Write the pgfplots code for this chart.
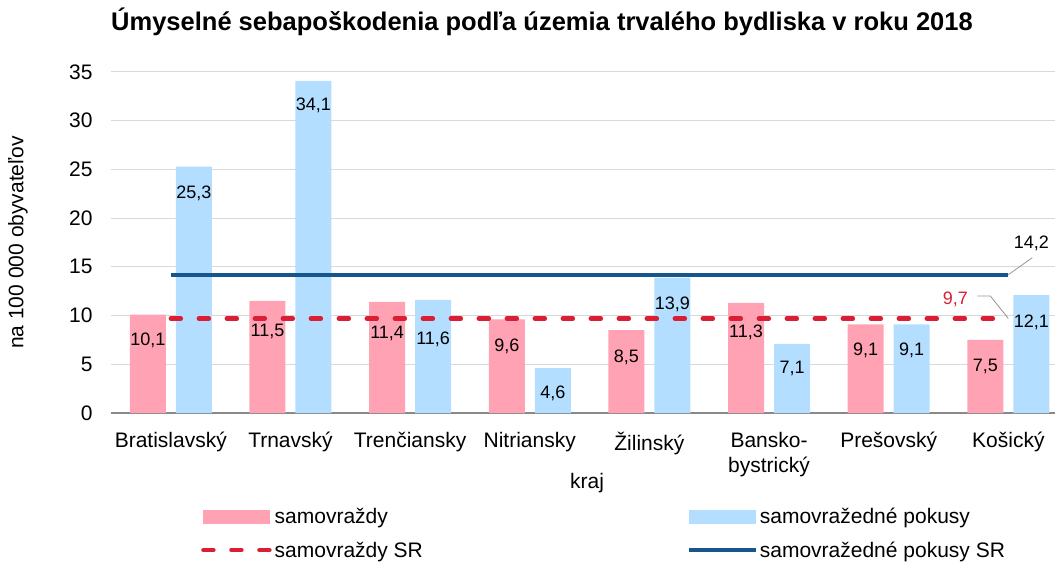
\documentclass[border=0pt]{standalone}
\usepackage{pgfplots}
\pgfplotsset{compat=1.18}
\usepackage{pgfplotstable}
\usepackage{fontspec}
\setmainfont{Liberation Sans}
\usetikzlibrary{calc}

\definecolor{pinkc}{RGB}{255,163,180}
\definecolor{bluec}{RGB}{180,222,255}
\definecolor{redc}{RGB}{218,30,52}
\definecolor{darkbluec}{RGB}{22,86,140}
\definecolor{gridc}{RGB}{217,217,217}
\definecolor{axisc}{RGB}{137,137,137}
\definecolor{leaderc}{RGB}{150,150,150}

\newcommand{\fsz}{\fontsize{21bp}{25bp}\selectfont}
\newcommand{\dsz}{\fontsize{18bp}{21bp}\selectfont}

\pgfplotsset{
  /pgf/number format/assume math mode=true,
  mybarlegend/.style={legend image code/.code={\fill[##1] (0bp,-7bp) rectangle (67bp,7bp);}},
  mylinelegend/.style={legend image code/.code={\draw[##1] (0bp,0bp) -- (67bp,0bp);}},
}

\pgfplotstableread{
x y off
0 10.1 26
1 11.5 31
2 11.4 32
3 9.6 27
4 8.5 27
5 11.3 29
6 9.1 26
7 7.5 27
}\suicides

\pgfplotstableread{
x y off
0 25.3 27
1 34.1 25
2 11.6 39
3 4.6 25
4 13.9 27
5 7.1 25
6 9.1 26
7 12.1 27
}\attempts

\begin{document}
\begin{tikzpicture}
\begin{axis}[
  name=ax,
  scale only axis,
  width=944bp, height=341bp,
  xmin=-0.5, xmax=7.39,
  ymin=0, ymax=35,
  ytick={0,5,...,35},
  xtick={0,...,7},
  xticklabels={Bratislavský, Trnavský, Trenčiansky, Nitriansky, Žilinský, {Bansko-\\bystrický}, Prešovský, Košický},
  xticklabel style={font=\fsz, align=center, yshift=-16bp},
  yticklabel style={font=\fsz, xshift=-15bp},
  major tick length=0pt,
  tick style={draw=none},
  axis x line*=bottom,
  axis y line*=left,
  x axis line style={draw=axisc, line width=1.2bp, -},
  y axis line style={draw=none},
  ymajorgrids,
  grid style={draw=gridc, line width=1bp},
  clip=false,
  legend columns=2,
  legend cell align=left,
  legend style={
    at={(rel axis cs:0,0)}, anchor=north west,
    xshift=87bp, yshift=-91bp,
    draw=none, fill=none,
    font=\fsz,
    row sep=12.5bp,
    /tikz/every even column/.append style={column sep=262bp},
  },
]
\addplot[ybar, bar width=36bp, bar shift=-23bp, fill=pinkc, draw=none, mybarlegend,
  visualization depends on={\thisrow{off} \as \labeloff},
  nodes near coords={\pgfmathprintnumber[fixed,fixed zerofill,precision=1,use comma]{\pgfplotspointmeta}},
  every node near coord/.append style={anchor=center, xshift=-23bp, yshift=-1bp*\labeloff, font=\dsz, text=black},
] table[x=x, y=y] {\suicides};
\addlegendentry{samovraždy}

\addplot[ybar, bar width=36bp, bar shift=23bp, fill=bluec, draw=none, mybarlegend,
  visualization depends on={\thisrow{off} \as \labeloff},
  nodes near coords={\pgfmathprintnumber[fixed,fixed zerofill,precision=1,use comma]{\pgfplotspointmeta}},
  every node near coord/.append style={anchor=center, xshift=23bp, yshift=-1bp*\labeloff, font=\dsz, text=black},
] table[x=x, y=y] {\attempts};
\addlegendentry{samovražedné pokusy}

\addplot[redc, line width=4.5bp, line cap=round, dash pattern=on 10bp off 18bp, mylinelegend] coordinates {(0,9.7) (7,9.7)};
\addlegendentry{samovraždy SR}

\addplot[darkbluec, line width=4bp, mylinelegend] coordinates {(0,14.2) (7,14.2)};
\addlegendentry{samovražedné pokusy SR}

\draw[leaderc, line width=0.8bp] (axis cs:7,14.2) -- ++(24bp,17bp);
\node[font=\dsz, text=black] at ([shift={(23bp,31bp)}]axis cs:7,14.2) {14,2};
\draw[leaderc, line width=0.8bp] (axis cs:7,9.7) -- ++(-18bp,22.5bp) -- ++(-13bp,0bp);
\node[font=\dsz, text=redc] at ([shift={(-53bp,19.5bp)}]axis cs:7,9.7) {9,7};
\end{axis}
\node[font=\fontsize{25.5bp}{30bp}\selectfont\bfseries] at ([shift={(-41bp,50bp)}]ax.north) {Úmyselné sebapoškodenia podľa územia trvalého bydliska v roku 2018};
\node[font=\fsz, rotate=90] at ([xshift=-93bp]ax.west) {na 100 000 obyvateľov};
\node[font=\fsz] at ([shift={(4bp,-70bp)}]ax.south) {kraj};
\pgfresetboundingbox
\path[use as bounding box] ([shift={(-111bp,-150bp)}]ax.south west) rectangle ([shift={(0bp,72bp)}]ax.north east);
\end{tikzpicture}
\end{document}
